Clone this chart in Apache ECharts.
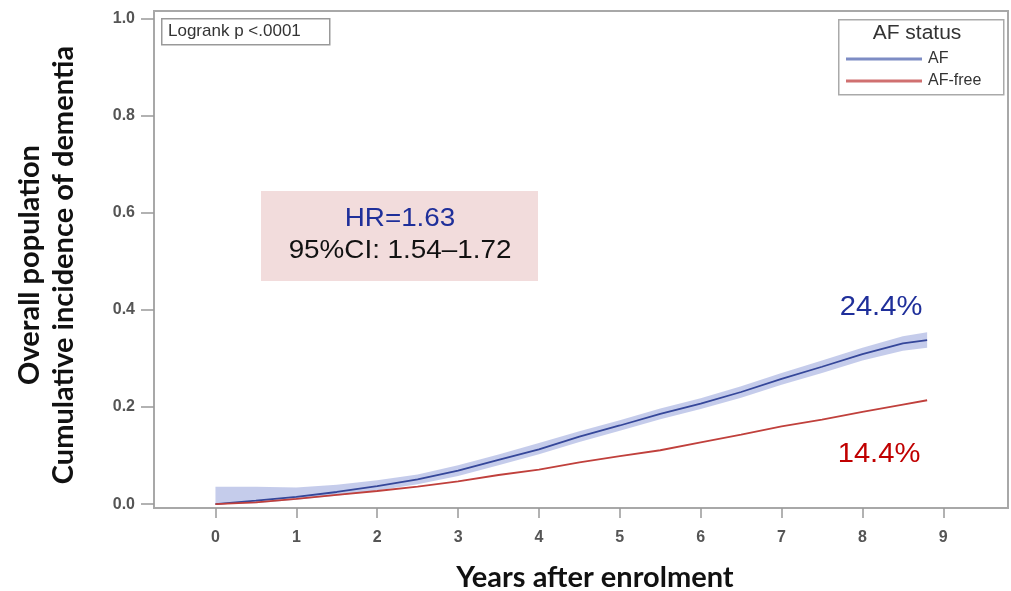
<!DOCTYPE html>
<html>
<head>
<meta charset="utf-8">
<script src="https://cdn.jsdelivr.net/npm/echarts@6/dist/echarts.min.js"></script>
<style>
html,body{margin:0;padding:0;background:#fff;}
#c{width:1011px;height:591px;}
</style>
</head>
<body>
<div id="c"></div>
<script>
var years   = [0,0.5,1,1.5,2,2.5,3,3.5,4,4.5,5,5.5,6,6.5,7,7.5,8,8.5,8.8];
var afVals  = [0,0.007,0.015,0.025,0.037,0.051,0.069,0.091,0.113,0.139,0.162,0.186,0.207,0.231,0.258,0.283,0.309,0.331,0.338];
var afLow   = [0,0.002,0.009,0.017,0.028,0.041,0.058,0.080,0.103,0.128,0.151,0.175,0.196,0.219,0.246,0.270,0.296,0.316,0.322];
var afHigh  = [0.036,0.036,0.034,0.040,0.049,0.061,0.080,0.102,0.126,0.150,0.173,0.197,0.218,0.243,0.270,0.296,0.322,0.346,0.354];
var freeVals= [0,0.0035,0.011,0.019,0.027,0.036,0.047,0.060,0.071,0.086,0.099,0.111,0.127,0.143,0.160,0.174,0.190,0.205,0.214];
var xTicks  = [0,1,2,3,4,5,6,7,8,9];
var yTicks  = [0,0.2,0.4,0.6,0.8,1.0];
var seriesNames = ['AF','AF-free'];

function pairs(xs, ys){ return xs.map(function(x,i){ return [x, ys[i]]; }); }

var chart = echarts.init(document.getElementById('c'), null, {renderer:'canvas'});
var tickFont = {color:'#555', fontSize:16, fontWeight:'bold', fontFamily:'Liberation Sans, Arial, sans-serif'};
var arial = 'Liberation Sans, Arial, sans-serif';
var bold = 'Lato, Noto Sans, sans-serif';

chart.setOption({
  animation:false,
  grid:{left:154, top:11, right:3, bottom:83, containLabel:false, outerBoundsMode:'none',
        show:true, borderColor:'#a8a8a8', borderWidth:2, backgroundColor:'transparent'},
  xAxis:{
    type:'value', min:-0.76, max:9.8,
    axisLine:{show:false, onZero:false},
    splitLine:{show:false},
    axisTick:{show:true, customValues:xTicks, length:10, lineStyle:{color:'#999', width:1.5}},
    axisLabel:Object.assign({customValues:xTicks, margin:22, formatter:function(v){return String(v);}}, tickFont)
  },
  yAxis:{
    type:'value', min:-0.008, max:1.016,
    axisLine:{show:false, onZero:false},
    splitLine:{show:false},
    axisTick:{show:true, customValues:yTicks, length:13, lineStyle:{color:'#999', width:1.5}},
    axisLabel:Object.assign({customValues:yTicks, margin:19, formatter:function(v){return v.toFixed(1);}}, tickFont)
  },
  legend:{
    data:seriesNames, orient:'vertical', left:841, top:46,
    itemWidth:76, itemHeight:3, itemGap:6, icon:'rect',
    textStyle:{fontSize:16, color:'#333', fontFamily:arial, padding:[0,0,0,1]}
  },
  series:[
    {name:'band', type:'custom', silent:true, z:1,
      data:[0],
      renderItem:function(params, api){
        var pts = [];
        for (var i=0;i<years.length;i++) pts.push(api.coord([years[i], afHigh[i]]));
        for (var j=years.length-1;j>=0;j--) pts.push(api.coord([years[j], afLow[j]]));
        return {type:'polygon', shape:{points:pts}, style:{fill:'rgba(140,153,215,0.5)'}};
      }
    },
    {name:'AF', type:'line', data:pairs(years, afVals), symbol:'none', lineStyle:{color:'#35479a', width:1.8}, itemStyle:{color:'#7d8cc4'}, z:5},
    {name:'AF-free', type:'line', data:pairs(years, freeVals), symbol:'none', lineStyle:{color:'#c0403c', width:1.8}, itemStyle:{color:'#d07070'}, z:5}
  ],
  graphic:[
    {type:'rect', left:161, top:18, shape:{width:168, height:26}, style:{fill:'#fff', stroke:'#999', lineWidth:1.5}},
    {type:'text', x:168, y:31, style:{text:'Logrank p <.0001', fontSize:17, fill:'#333', verticalAlign:'middle', fontFamily:arial}},
    {type:'rect', left:838, top:19, shape:{width:165, height:75}, style:{fill:'#fff', stroke:'#aaa', lineWidth:1.5}, z:-1},
    {type:'text', x:917, y:33, scaleX:1.05, style:{text:'AF status', fontSize:20, fill:'#333', align:'center', verticalAlign:'middle', fontFamily:arial}},
    {type:'rect', left:261, top:191, shape:{width:277, height:90}, style:{fill:'#f2dcdc'}},
    {type:'text', x:400, y:219, scaleX:1.07, style:{text:'HR=1.63', fontSize:26, fill:'#1f2f9a', align:'center', verticalAlign:'middle', fontFamily:arial}},
    {type:'text', x:400, y:251, scaleX:1.07, style:{text:'95%CI: 1.54\u20131.72', fontSize:26, fill:'#111', align:'center', verticalAlign:'middle', fontFamily:arial}},
    {type:'text', x:881, y:308, scaleX:1.08, style:{text:'24.4%', fontSize:27, fill:'#1f2f9a', align:'center', verticalAlign:'middle', fontFamily:arial}},
    {type:'text', x:879, y:455, scaleX:1.08, style:{text:'14.4%', fontSize:27, fill:'#c00000', align:'center', verticalAlign:'middle', fontFamily:arial}},
    {type:'text', x:30, y:265, rotation:Math.PI/2, style:{text:'Overall population', fontSize:29, fontWeight:'bold', fill:'#111', align:'center', verticalAlign:'middle', fontFamily:bold}},
    {type:'text', x:64, y:265, rotation:Math.PI/2, style:{text:'Cumulative incidence of dementia', fontSize:29, fontWeight:'bold', fill:'#111', align:'center', verticalAlign:'middle', fontFamily:bold}},
    {type:'text', x:595, y:578, style:{text:'Years after enrolment', fontSize:29, fontWeight:'bold', fill:'#111', align:'center', verticalAlign:'middle', fontFamily:bold}}
  ]
});
</script>
</body>
</html>
